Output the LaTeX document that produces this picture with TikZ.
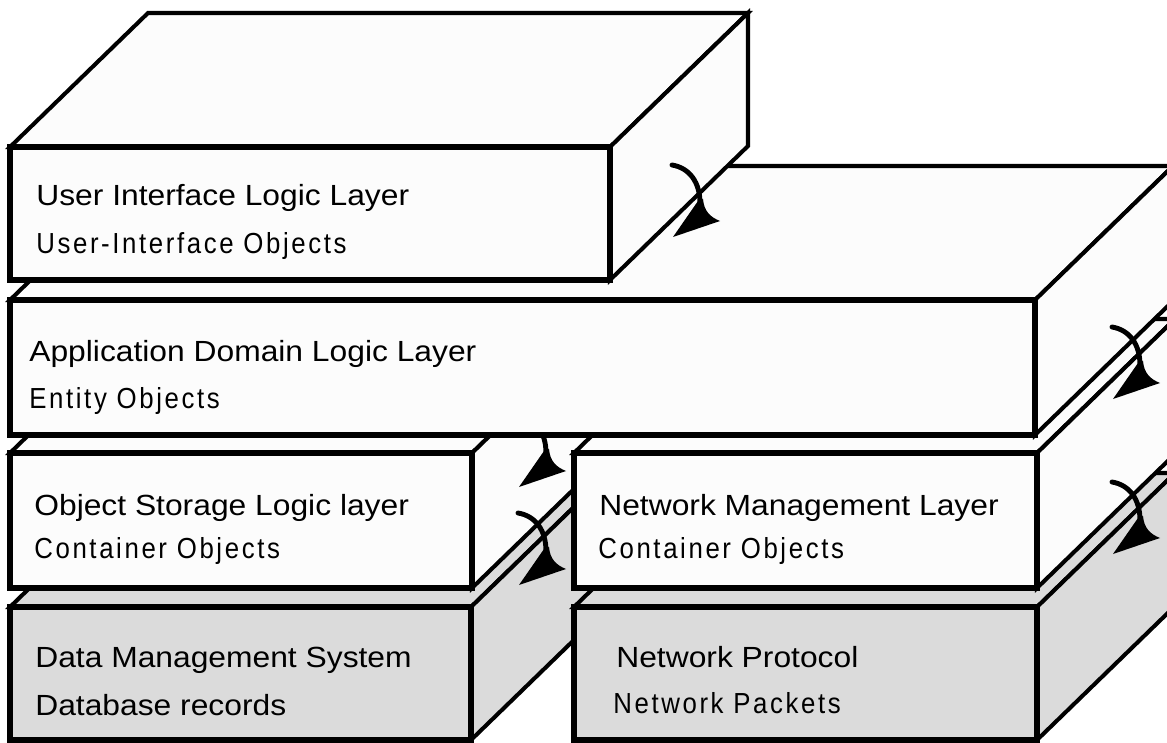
\documentclass[tikz,border=0pt]{standalone}
\usepackage{fontspec}
\setmainfont{Liberation Sans}
\newfontfamily\layerfont[FakeStretch=1.09]{Liberation Sans}
\newfontfamily\objfont[FakeStretch=0.89,LetterSpace=9]{Liberation Sans}
\definecolor{upperfill}{gray}{0.99}
\definecolor{lowerfill}{gray}{0.86}

\begin{document}
\begin{tikzpicture}[x=0.02cm, y=-0.02cm,
    face/.style={draw=black, line width=2.3pt, line join=miter},
    front/.style={draw=black, line width=3.1pt},
    flowline/.style={line width=2.8pt, line cap=round},
    layertitle/.style={font=\layerfont\fontsize{16.6}{18}\selectfont, inner sep=0pt, anchor=base west},
    layersub/.style={font=\objfont\fontsize{16.5}{18}\selectfont, inner sep=0pt, anchor=base west}]
    \path[use as bounding box, clip] (0,0) rectangle (1167,743);

    \def\dx{138}
    \def\dy{-134}

    % #1,#2 front top left, #3,#4 front bottom right, #5 fill
    \def\layer#1#2#3#4#5{%
        \filldraw[face, fill=#5] (#1,#2) -- ++(\dx,\dy) -- ({#3+\dx},{#2+\dy}) -- (#3,#2) -- cycle;
        \filldraw[face, fill=#5] (#3,#2) -- ++(\dx,\dy) -- ({#3+\dx},{#4+\dy}) -- (#3,#4) -- cycle;
        \filldraw[front, fill=#5] (#1,#2) rectangle (#3,#4);
    }

    % curved flow arrow starting at #2,#3
    \def\flow#1#2#3{%
        \begin{scope}[shift={(#2,#3)}]
            \coordinate (#1) at (0,0);
            \coordinate (#1-neck) at (28,38);
            \coordinate (#1-tip) at (1,72);
            \coordinate (#1-wing) at (48,56);
            \draw[flowline] (#1) .. controls (18,3) and (28,18) .. (#1-neck);
            \fill (26,36) -- (#1-tip) -- (#1-wing) .. controls (38,52) and (32,46) .. (31,34) -- cycle;
        \end{scope}
    }

    \layer{10}{607}{471}{740}{lowerfill}
    \layer{10}{453}{472}{588}{upperfill}
    \layer{574}{607}{1037}{740}{lowerfill}
    \layer{574}{453}{1037}{588}{upperfill}

    \flow{app-os}{518}{415}
    \flow{os-dms}{518}{513}
    \flow{nm-np}{1112}{482}

    \layer{10}{300}{1035}{435}{upperfill}
    \flow{app-nm}{1112}{327}

    \layer{10}{147}{610}{280}{upperfill}
    \flow{ui-app}{672}{165}

    \node[layertitle] (ui) at (36,206) {User Interface Logic Layer};
    \node[layersub] (ui-obj) at (36,254) {User-Interface Objects};
    \node[layertitle] (app) at (29,361) {Application Domain Logic Layer};
    \node[layersub] (app-obj) at (29,408) {Entity Objects};
    \node[layertitle] (os) at (34,515) {Object Storage Logic layer};
    \node[layersub] (os-obj) at (34,558) {Container Objects};
    \node[layertitle] (nm) at (599,515) {Network Management Layer};
    \node[layersub] (nm-obj) at (598,558) {Container Objects};
    \node[layertitle] (dms) at (35,667) {Data Management System};
    \node[layertitle] (dms-obj) at (35,715) {Database records};
    \node[layertitle] (np) at (616,667) {Network Protocol};
    \node[layersub] (np-obj) at (613,713) {Network Packets};
\end{tikzpicture}
\end{document}
